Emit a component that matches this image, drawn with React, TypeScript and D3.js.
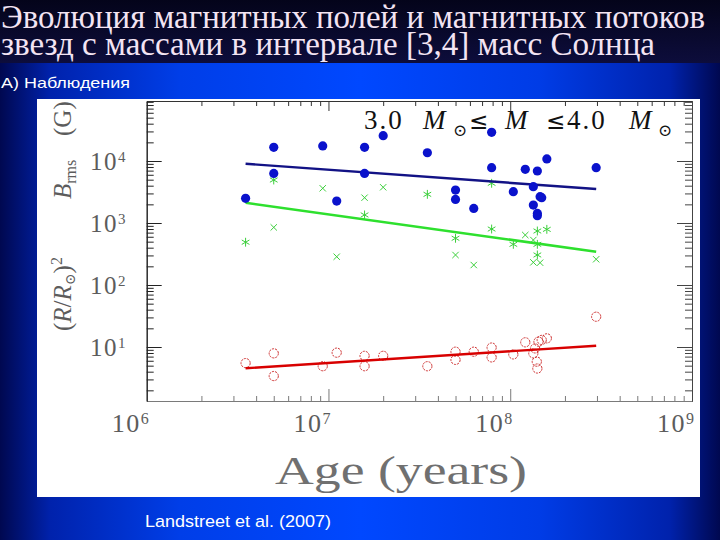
import React, { useEffect, useRef } from 'react';
import * as d3 from 'd3';

// slide texts
const titleLines = [
  'Эволюция магнитных полей и магнитных потоков',
  'звезд с массами в интервале [3,4] масс Солнца',
];
const subtitle = 'А) Наблюдения';
const sourceNote = 'Landstreet et al. (2007)';

// axes
const xTickExps = [6, 7, 8, 9];
const yTickExps = [1, 2, 3, 4];

// B_rms (G), filled blue dots
const blueAge = [3.5e6, 5.0e6, 5.0e6, 9.3e6, 1.11e7, 1.58e7, 1.58e7, 2.0e7, 3.5e7, 5.0e7, 5.0e7, 6.3e7, 7.9e7, 7.9e7, 1.04e8, 1.21e8, 1.34e8, 1.34e8, 1.41e8, 1.41e8, 1.41e8, 1.46e8, 1.49e8, 1.59e8, 2.97e8];
const blueB = [2500, 16600, 6300, 17500, 2260, 16600, 6300, 25600, 13600, 3400, 2400, 1720, 29000, 7800, 3200, 7350, 3850, 1950, 6900, 1430, 1310, 2660, 2560, 10800, 7800];

// B (R/R_sun)^2, green asterisks (a) and crosses (x)
const greenAge = [3.5e6, 5.0e6, 5.0e6, 9.3e6, 1.11e7, 1.58e7, 1.58e7, 2.0e7, 3.5e7, 5.0e7, 5.0e7, 6.3e7, 7.9e7, 7.9e7, 1.04e8, 1.21e8, 1.34e8, 1.34e8, 1.41e8, 1.41e8, 1.41e8, 1.46e8, 1.59e8, 2.97e8];
const greenFlux = [490, 4940, 850, 3630, 286, 2560, 1350, 3770, 2900, 567, 305, 210, 4370, 800, 453, 640, 532, 232, 743, 453, 305, 229, 790, 260];
const greenKind = ['a', 'a', 'x', 'x', 'x', 'x', 'a', 'x', 'a', 'a', 'x', 'x', 'a', 'a', 'a', 'x', 'x', 'x', 'a', 'a', 'a', 'x', 'a', 'x'];

// open red circles
const redAge = [3.5e6, 5.0e6, 5.0e6, 9.3e6, 1.11e7, 1.58e7, 1.58e7, 2.0e7, 3.5e7, 5.0e7, 5.0e7, 6.3e7, 7.9e7, 7.9e7, 1.04e8, 1.21e8, 1.34e8, 1.37e8, 1.40e8, 1.41e8, 1.43e8, 1.49e8, 1.59e8, 2.97e8];
const redVal = [5.5, 7.9, 3.4, 4.9, 8.1, 7.2, 4.9, 7.2, 4.9, 8.4, 6.2, 8.4, 9.8, 6.8, 7.6, 11.9, 7.9, 9.5, 5.8, 4.5, 12.2, 13.0, 13.8, 30.8];

// fitted trends (end points)
const fitAge = [3.5e6, 2.97e8];
const blueFit = [9040, 3530];
const greenFit = [2120, 344];
const redFit = [4.53, 10.5];

const SERIF = "'Liberation Serif', 'DejaVu Serif', serif";
const SANS = "'Liberation Sans', Arial, sans-serif";
const GREY = '#5c5c5c';

export default function App() {
  const svgRef = useRef<SVGSVGElement>(null);

  useEffect(() => {
    if (!svgRef.current) return;
    const svg = d3.select(svgRef.current);
    svg.selectAll('*').remove();

    // background
    const defs = svg.append('defs');
    const bg = defs.append('linearGradient').attr('id', 'bg').attr('x1', 0).attr('x2', 1).attr('y1', 0).attr('y2', 0);
    [[0, '#000850'], [0.07, '#0022ac'], [0.25, '#003ee8'], [0.5, '#0048ff'], [0.75, '#003ce6'], [0.93, '#0022ac'], [1, '#000850']]
      .forEach(([o, c]) => bg.append('stop').attr('offset', o as number).attr('stop-color', c as string));
    const top = defs.append('linearGradient').attr('id', 'topband').attr('x1', 0).attr('x2', 0).attr('y1', 0).attr('y2', 1);
    top.append('stop').attr('offset', 0).attr('stop-color', '#04041a');
    top.append('stop').attr('offset', 1).attr('stop-color', '#0d0d3c');

    svg.append('rect').attr('width', 720).attr('height', 540).attr('fill', 'url(#bg)');
    svg.append('rect').attr('width', 720).attr('height', 63).attr('fill', 'url(#topband)');

    titleLines.forEach((t, i) => {
      svg.append('text')
        .attr('x', 1).attr('y', 28 + i * 27)
        .attr('font-family', SERIF).attr('font-size', 33)
        .attr('fill', '#f3e4f3')
        .attr('textLength', i === 0 ? 704 : 654)
        .attr('lengthAdjust', 'spacingAndGlyphs')
        .text(t);
    });

    svg.append('text')
      .attr('x', 1).attr('y', 88)
      .attr('font-family', SANS).attr('font-size', 15)
      .attr('fill', '#ffffff')
      .attr('textLength', 129).attr('lengthAdjust', 'spacingAndGlyphs')
      .text(subtitle);

    svg.append('text')
      .attr('x', 145).attr('y', 527)
      .attr('font-family', SANS).attr('font-size', 17)
      .attr('fill', '#ffffff')
      .attr('textLength', 186).attr('lengthAdjust', 'spacingAndGlyphs')
      .text(sourceNote);

    // white figure panel
    svg.append('rect').attr('x', 37).attr('y', 99).attr('width', 663).attr('height', 398).attr('fill', '#ffffff');

    const x = d3.scaleLog().domain([1e6, 1e9]).range([146.7, 692]);
    const y = d3.scaleLog().domain([Math.pow(10, 0.129), Math.pow(10, 4.968)]).range([401, 101]);

    const xMajor = [1e7, 1e8];
    const xMinor: number[] = [];
    [6, 7, 8].forEach(e => d3.range(2, 10).forEach(k => xMinor.push(k * Math.pow(10, e))));
    const yMajor = yTickExps.map(e => Math.pow(10, e));
    const yMinor: number[] = [];
    const [y0, y1] = y.domain();
    [0, 1, 2, 3, 4].forEach(e => d3.range(2, 10).forEach(k => {
      const v = k * Math.pow(10, e);
      if (v > y0 && v < y1) yMinor.push(v);
    }));

    const styleAxis = (g: any, stroke: string) => {
      g.selectAll('path').attr('stroke', stroke).attr('stroke-width', 1);
      g.selectAll('line').attr('stroke', stroke).attr('stroke-width', 1);
      g.selectAll('text').remove();
    };

    const axes: [any, string, string, number, number, number[], number[]][] = [
      [d3.axisBottom, 'translate(0,401)', '#7a7a7a', -12, -5, xMajor, xMinor],
      [d3.axisTop, 'translate(0,101)', '#333333', -10, -5, xMajor, xMinor],
      [d3.axisLeft, 'translate(146.7,0)', '#222222', -15, -7, yMajor, yMinor],
      [d3.axisRight, 'translate(692,0)', '#444444', -15, -7, yMajor, yMinor],
    ];
    axes.forEach(([fn, tr, stroke, majLen, minLen, major, minor], i) => {
      const sc = i < 2 ? x : y;
      svg.append('g').attr('transform', tr)
        .call(fn(sc).tickValues(minor).tickSize(minLen).tickSizeOuter(0).tickFormat(() => ''))
        .call((g: any) => styleAxis(g, stroke));
      svg.append('g').attr('transform', tr)
        .call(fn(sc).tickValues(major).tickSize(majLen).tickSizeOuter(0).tickFormat(() => ''))
        .call((g: any) => styleAxis(g, stroke));
    });

    // tick labels 10^n
    xTickExps.forEach(e => {
      const t = svg.append('text')
        .attr('x', x(Math.pow(10, e)) - 35).attr('y', 432)
        .attr('font-family', SERIF).attr('font-size', 26).attr('fill', GREY)
        .attr('letter-spacing', 1.5);
      t.append('tspan').text('10');
      t.append('tspan').attr('font-size', 16).attr('dy', -8).text(String(e));
    });
    yTickExps.forEach(e => {
      const t = svg.append('text')
        .attr('x', 90).attr('y', y(Math.pow(10, e)) + 9)
        .attr('font-family', SERIF).attr('font-size', 25).attr('fill', GREY)
        .attr('letter-spacing', 1.5);
      t.append('tspan').text('10');
      t.append('tspan').attr('font-size', 15).attr('dy', -8).text(String(e));
    });

    // axis titles
    svg.append('text')
      .attr('x', 275).attr('y', 484)
      .attr('font-family', SERIF).attr('font-size', 39).attr('fill', '#707070')
      .attr('textLength', 252).attr('lengthAdjust', 'spacingAndGlyphs')
      .text('Age (years)');

    const yt1 = svg.append('text')
      .attr('transform', 'translate(71,199) rotate(-90)')
      .attr('font-family', SERIF).attr('font-size', 25).attr('fill', GREY);
    yt1.append('tspan').attr('font-style', 'italic').text('B');
    yt1.append('tspan').attr('font-size', 16).attr('dy', 5).text('rms');
    svg.append('text')
      .attr('transform', 'translate(71,136) rotate(-90)')
      .attr('font-family', SERIF).attr('font-size', 25).attr('fill', GREY)
      .text('(G)');

    const yt2 = svg.append('text')
      .attr('transform', 'translate(71,331) rotate(-90)')
      .attr('font-family', SERIF).attr('font-size', 25).attr('fill', GREY);
    yt2.append('tspan').text('(');
    yt2.append('tspan').attr('font-style', 'italic').text('R');
    yt2.append('tspan').text('/');
    yt2.append('tspan').attr('font-style', 'italic').text('R');
    yt2.append('tspan').attr('font-size', 14).attr('dy', 4).attr('font-family', "'DejaVu Serif', serif").text('⊙');
    yt2.append('tspan').attr('dy', -4).text(')');
    yt2.append('tspan').attr('font-size', 16).attr('dy', -9).text('2');

    // mass range label
    const leg = svg.append('g').attr('font-family', SERIF).attr('fill', '#111').attr('font-size', 27);
    leg.append('text').attr('x', 364).attr('y', 129).attr('letter-spacing', 2).text('3.0');
    leg.append('text').attr('x', 423).attr('y', 129).attr('font-style', 'italic').text('M');
    leg.append('text').attr('x', 453).attr('y', 136).attr('font-size', 17).attr('font-family', "'DejaVu Serif', serif").text('⊙');
    leg.append('text').attr('x', 469).attr('y', 129).attr('font-family', "'DejaVu Sans', sans-serif").attr('font-size', 23).text('≤');
    leg.append('text').attr('x', 505).attr('y', 129).attr('font-style', 'italic').text('M');
    leg.append('text').attr('x', 546).attr('y', 129).attr('font-family', "'DejaVu Sans', sans-serif").attr('font-size', 23).text('≤');
    leg.append('text').attr('x', 567).attr('y', 129).attr('letter-spacing', 2).text('4.0');
    leg.append('text').attr('x', 629).attr('y', 129).attr('font-style', 'italic').text('M');
    leg.append('text').attr('x', 658).attr('y', 136).attr('font-size', 17).attr('font-family', "'DejaVu Serif', serif").text('⊙');

    // fitted lines
    const fitLine = (vals: number[], color: string, w: number) => {
      svg.append('path')
        .datum(d3.zip(fitAge, vals))
        .attr('fill', 'none').attr('stroke', color).attr('stroke-width', w)
        .attr('d', d3.line<number[]>().x(d => x(d[0])).y(d => y(d[1])));
    };

    // red open circles
    svg.append('g').selectAll('circle')
      .data(d3.zip(redAge, redVal))
      .enter().append('circle')
      .attr('cx', d => x(d[0])).attr('cy', d => y(d[1])).attr('r', 4.6)
      .attr('fill', 'none').attr('stroke', '#c81e1e').attr('stroke-width', 0.9)
      .attr('stroke-dasharray', '2.2,1');
    fitLine(redFit, '#d80000', 2.4);

    // green asterisks / crosses
    const ast = d3.symbol().type(d3.symbolAsterisk).size(55);
    const crs = d3.symbol().type(d3.symbolTimes).size(28);
    svg.append('g').selectAll('path')
      .data(d3.range(greenAge.length))
      .enter().append('path')
      .attr('transform', i => `translate(${x(greenAge[i])},${y(greenFlux[i])})`)
      .attr('d', i => (greenKind[i] === 'a' ? ast() : crs()) as string)
      .attr('fill', 'none').attr('stroke', '#3ccf3c').attr('stroke-width', 1);
    fitLine(greenFit, '#2ee02e', 2.6);

    fitLine(blueFit, '#121285', 2.4);
    // blue dots
    svg.append('g').selectAll('circle')
      .data(d3.zip(blueAge, blueB))
      .enter().append('circle')
      .attr('cx', d => x(d[0])).attr('cy', d => y(d[1])).attr('r', 4.6)
      .attr('fill', '#0a12cc');
  }, []);

  return (
    <svg ref={svgRef} width={720} height={540}
      style={{ position: 'absolute', left: 0, top: 0, display: 'block' }} />
  );
}
